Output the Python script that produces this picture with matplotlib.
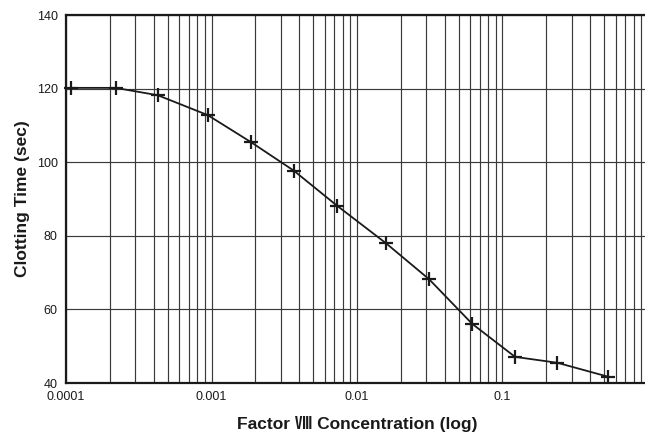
import matplotlib
matplotlib.use("Agg")
import matplotlib.pyplot as plt
from matplotlib.ticker import LogLocator, FixedLocator, FixedFormatter, NullFormatter

plt.rcParams['font.family'] = ['Liberation Sans', 'Noto Sans CJK JP', 'DejaVu Sans']

# Data
concentration = [0.000109, 0.000219, 0.000427, 0.000942, 0.00186, 0.00368,
                 0.00728, 0.0158, 0.0313, 0.0618, 0.122, 0.238, 0.533]
clotting_time = [120.2, 120.2, 118.2, 112.8, 105.5, 97.7,
                 88.2, 78.0, 68.2, 56.1, 47.1, 45.5, 41.7]

x_ticks = [0.0001, 0.001, 0.01, 0.1]
x_tick_labels = ['0.0001', '0.001', '0.01', '0.1']
y_ticks = [40, 60, 80, 100, 120, 140]

fig = plt.figure(figsize=(6.45, 4.38), dpi=100)
ax = fig.add_axes([66/645, 1 - 383/438, (648 - 66)/645, (383 - 15)/438])

ax.set_xscale('log')
ax.set_xlim(1e-4, 1)
ax.set_ylim(40, 140)

ax.xaxis.set_major_locator(FixedLocator(x_ticks))
ax.xaxis.set_major_formatter(FixedFormatter(x_tick_labels))
ax.xaxis.set_minor_locator(LogLocator(base=10, subs=range(2, 10), numticks=20))
ax.xaxis.set_minor_formatter(NullFormatter())
ax.set_yticks(y_ticks)

ax.grid(True, which='both', axis='x', color='#3a3a3a', linewidth=0.85)
ax.grid(True, which='major', axis='y', color='#3a3a3a', linewidth=0.85)
ax.set_axisbelow(True)

ax.plot(concentration, clotting_time, color='#1a1a1a', linewidth=1.3,
        marker='+', markersize=10, markeredgewidth=1.6, zorder=3,
        clip_on=False)

for side in ['left', 'bottom', 'top']:
    ax.spines[side].set_linewidth(1.6)
    ax.spines[side].set_color('#1a1a1a')
ax.spines['right'].set_visible(False)

ax.tick_params(axis='both', which='both', length=0, labelsize=9, colors='#1a1a1a')
ax.tick_params(axis='y', pad=6)
ax.tick_params(axis='x', pad=6)

ax.set_xlabel('Factor Ⅷ Concentration (log)', fontsize=12.5, fontweight='bold',
              color='#1a1a1a', labelpad=9)
ax.set_ylabel('Clotting Time (sec)', fontsize=12.5, fontweight='bold',
              color='#1a1a1a', labelpad=5)

fig.savefig('out.png', dpi=100)
